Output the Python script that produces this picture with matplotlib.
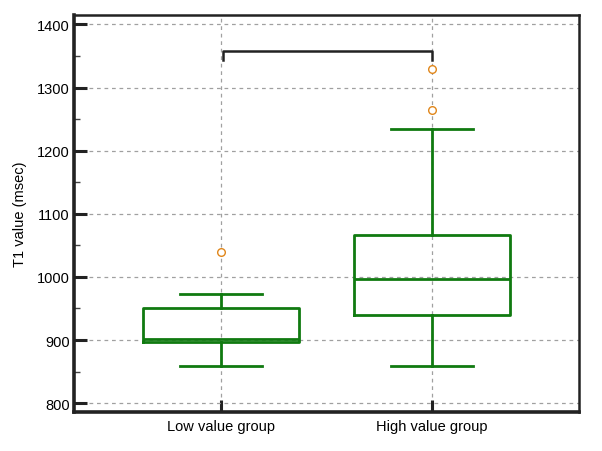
import matplotlib.pyplot as plt
from matplotlib.ticker import MultipleLocator

plt.rcParams['font.family'] = ['Liberation Sans', 'DejaVu Sans']

# -------------------------
# Box statistics
# -------------------------
groups = ["Low value group", "High value group"]
whisker_low = [859, 859]
q1 = [897, 940]
median = [902, 996]
q3 = [951, 1067]
whisker_high = [973, 1235]
outliers = [[1039], [1265, 1330]]

bracket_y = 1358
bracket_drop = 14

green = "#107a10"
orange = "#e0861a"

stats = []
for i, g in enumerate(groups):
    stats.append({
        "label": g,
        "whislo": whisker_low[i],
        "q1": q1[i],
        "med": median[i],
        "q3": q3[i],
        "whishi": whisker_high[i],
        "fliers": outliers[i],
    })

fig = plt.figure(figsize=(6.02, 4.52), dpi=100)
ax = fig.add_axes([0.1229, 0.0863, 0.8389, 0.8783])

ax.bxp(
    stats,
    positions=[1, 2],
    widths=0.74,
    boxprops=dict(color=green, linewidth=2),
    medianprops=dict(color=green, linewidth=2),
    whiskerprops=dict(color=green, linewidth=2),
    capprops=dict(color=green, linewidth=2),
    capwidths=0.385,
    flierprops=dict(marker='o', markersize=5.5, markerfacecolor='white',
                    markeredgecolor=orange, markeredgewidth=1),
    zorder=3,
)

# significance bracket
ax.plot([1.01, 1.01, 2, 2],
        [bracket_y - bracket_drop, bracket_y, bracket_y, bracket_y - bracket_drop],
        color="#222222", linewidth=1.8, zorder=4)

ax.set_xlim(0.303, 2.697)
ax.set_ylim(786, 1415)
ax.set_xticks([1, 2])
ax.set_xticklabels(groups)
ax.yaxis.set_major_locator(MultipleLocator(100))
ax.yaxis.set_minor_locator(MultipleLocator(50))

ax.grid(True, linestyle=(0, (3, 3)), color="#a0a0a0", linewidth=0.9, zorder=0)
ax.set_axisbelow(True)

ax.tick_params(axis='both', which='major', direction='in', length=9, width=2.2,
               color="#222222", labelsize=10.5, pad=3)
ax.tick_params(axis='y', which='minor', direction='in', length=4, width=1,
               color="#444444")
ax.tick_params(axis='x', which='major', pad=5)

for side in ["left", "bottom"]:
    ax.spines[side].set_linewidth(2.6)
    ax.spines[side].set_color("#222222")
for side in ["top", "right"]:
    ax.spines[side].set_linewidth(1.8)
    ax.spines[side].set_color("#222222")

ax.set_ylabel("T1 value (msec)", fontsize=10.5, labelpad=7)

plt.savefig("out.png", dpi=100)
